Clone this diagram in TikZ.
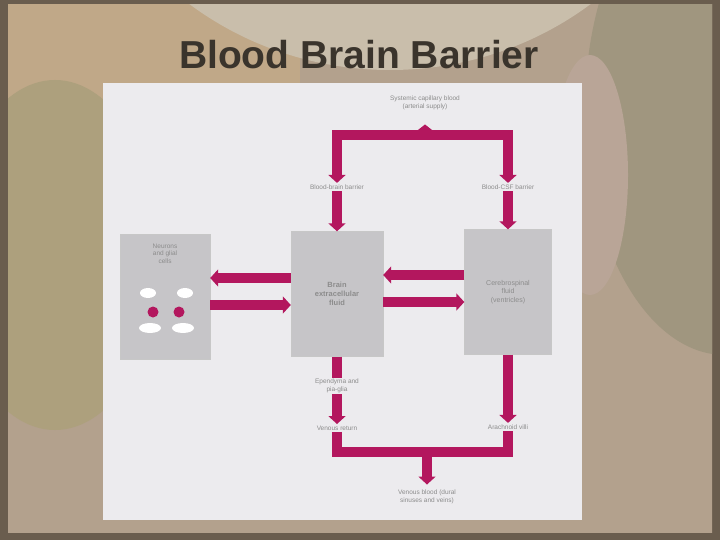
\documentclass[tikz,border=0pt]{standalone}
\usepackage{fontspec}
\setmainfont{Liberation Sans}
\usetikzlibrary{arrows.meta,positioning}
\definecolor{bbbPink}{HTML}{B3175E}
\definecolor{slideEdge}{HTML}{6A5D4E}
\definecolor{slideBase}{HTML}{B3A18D}
\definecolor{slideTan}{HTML}{C0A888}
\definecolor{slidePale}{HTML}{C9BEAB}
\definecolor{slideOlive}{HTML}{ADA07D}
\definecolor{slideGray}{HTML}{A0967F}
\definecolor{slidePink}{HTML}{B9A597}
\definecolor{panelGray}{HTML}{ECEBEE}
\definecolor{boxGray}{HTML}{C6C5C8}
\definecolor{titleInk}{HTML}{3A342C}
\tikzset{
  compart/.style={draw=black!22, fill=boxGray, minimum height=125pt, inner sep=0pt, align=center, text=black!45},
  pipe/.style={draw=bbbPink, line width=10pt},
  pipetip/.style={pipe, -{Triangle[width=17pt,length=8pt]}},
  pipetips/.style={pipe, {Triangle[width=17pt,length=8pt]}-{Triangle[width=17pt,length=8pt]}},
  pipelabel/.style={align=center, text=black!45, font=\fontsize{6.5}{7.5}\selectfont, inner sep=1.5pt},
}

\begin{document}
\begin{tikzpicture}[x=1pt, y=-1pt]
\useasboundingbox (0,0) rectangle (720,540);
% slide background
\fill[slideEdge] (0,0) rectangle (720,540);
\begin{scope}
  \clip (8,5) rectangle (712,532);
  \fill[slideBase] (0,0) rectangle (720,540);
  \fill[slideTan] (-40,-40) rectangle (300,120);
  \fill[slidePale] (390,-250) ellipse (330 and 320);
  \fill[slideOlive] (55,255) ellipse (105 and 175);
  \fill[slideGray] (725,110) ellipse (140 and 245);
  \fill[slidePink] (590,175) ellipse (38 and 120);
\end{scope}
\node[font=\bfseries\fontsize{39}{44}\selectfont, text=titleInk] (title) at (359,55) {Blood Brain Barrier};

% picture panel
\fill[panelGray] (103,83) rectangle (582,520);

% compartments
\node[compart, minimum width=90pt] (cells) at (165,297) {};
\node[pipelabel, below=8pt of cells.north] (cellname) {Neurons\\and glial\\cells};
\fill[white] (148,293) ellipse (8 and 5) (185,293) ellipse (8 and 5);
\fill[white] (150,328) ellipse (11 and 5) (183,328) ellipse (11 and 5);
\fill[bbbPink] (153,312) circle (5.5) (179,312) circle (5.5);
\node[compart, minimum width=92pt, font=\bfseries\fontsize{7.5}{9}\selectfont] (isf) at (337,294) {Brain\\extracellular\\fluid};
\node[compart, minimum width=87pt, font=\fontsize{7}{8.5}\selectfont] (csf) at (508,292) {Cerebrospinal\\fluid\\(ventricles)};

% exchange between compartments
\draw[pipetip] (isf.west |- 0,278) -- (cells.east |- 0,278);
\draw[pipetip] (cells.east |- 0,305) -- (isf.west |- 0,305);
\draw[pipetip] (csf.west |- 0,275) -- (isf.east |- 0,275);
\draw[pipetip] (isf.east |- 0,302) -- (csf.west |- 0,302);

% arterial side
\node[pipelabel] (syscap) at (425,103) {Systemic capillary blood\\(arterial supply)};
\coordinate (tm) at (425,135);
\node[pipelabel] (bbbL) at (337,187) {Blood-brain barrier};
\node[pipelabel] (bbbR) at (508,187) {Blood-CSF barrier};
\draw[pipetips] (bbbL.north) |- (tm) -| (bbbR.north);
\draw[pipe, -{Triangle[width=15pt,length=6pt]}, shorten >=13pt] (tm) -- (syscap.south);
\draw[pipetip] (bbbL.south) -- (isf.north);
\draw[pipetip] (bbbR.south) -- (csf.north);

% venous side
\node[pipelabel] (epend) at (337,386) {Ependyma and\\pia-glia};
\node[pipelabel] (venret) at (337,428) {Venous return};
\node[pipelabel] (arach) at (508,427) {Arachnoid villi};
\node[pipelabel] (venous) at (427,497) {Venous blood (dural\\sinuses and veins)};
\coordinate (bm) at (427,452);
\draw[pipe] (isf.south) -- (epend.north);
\draw[pipetip] (epend.south) -- (venret.north);
\draw[pipetip] (csf.south) -- (arach.north);
\draw[pipe] (venret.south) |- (bm) -| (arach.south);
\draw[pipetip, shorten >=4pt] (bm) -- (venous.north);
\end{tikzpicture}
\end{document}
